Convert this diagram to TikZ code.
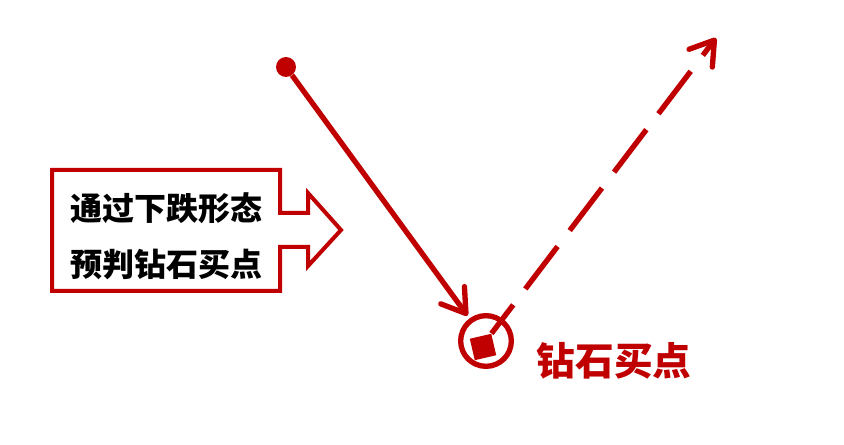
\documentclass[tikz,border=0pt]{standalone}
\usepackage{fontspec}
\newfontfamily\cjk{Noto Sans CJK SC}
\usetikzlibrary{arrows.meta,calc}
\definecolor{buyred}{RGB}{192,0,0}

\begin{document}
\begin{tikzpicture}[x=0.75pt, y=-0.75pt,
    redline/.style={line width=4pt, buyred},
    barb/.style={-{Straight Barb[length=17pt,width=22pt,round]}}]

    \useasboundingbox (0,0) rectangle (844,445);

    \draw[buyred, line width=3pt] (52,170) -- (280,170) -- (280,213) -- (308,213) -- (308,193) -- (341,230) -- (308,266) -- (308,247) -- (280,247) -- (280,291) -- (52,291) -- cycle;
    \node[anchor=base west, font=\cjk\bfseries\fontsize{24pt}{29pt}\selectfont] (say1) at (66,221) {通过下跌形态};
    \node[anchor=base west, font=\cjk\bfseries\fontsize{24pt}{29pt}\selectfont] (say2) at (66,277) {预判钻石买点};

    \node[circle, fill=buyred, minimum size=15pt, inner sep=0] (top) at (286,67) {};
    \node[circle, draw=buyred, line width=4pt, minimum size=38pt, inner sep=0, outer sep=4.5pt] (buy) at (486,341) {};
    \node[rectangle, fill=buyred, minimum size=16.5pt, inner sep=0, rotate=13] (sq) at (483,347) {};
    \coordinate (up) at (716,38);

    \draw[redline, barb] (top) -- (buy);
    \draw[redline, barb, dash pattern=on 40pt off 15pt, dash phase=13pt] (sq.north east) -- (up);

    \node[anchor=base west, text=buyred, font=\cjk\bfseries\fontsize{29pt}{34pt}\selectfont] (name) at (532,376) {钻石买点};

\end{tikzpicture}
\end{document}
